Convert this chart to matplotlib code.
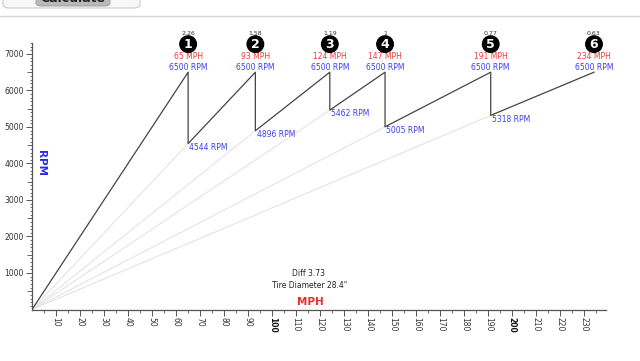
import matplotlib

matplotlib.use("Agg")

import matplotlib.pyplot as plt
from matplotlib.patches import FancyBboxPatch
from matplotlib.lines import Line2D
import numpy as np

# gear data
GEARS = ["1", "2", "3", "4", "5", "6"]
RATIOS = ["2.26", "1.58", "1.19", "1", "0.77", "0.63"]
SHIFT_MPH = [65, 93, 124, 147, 191, 234]
SHIFT_RPM = 6500
DROP_RPM = [4544, 4896, 5462, 5005, 5318]
DIFF = "3.73"
TIRE = "28.4"

X_MAX = 239
Y_MAX = 7300
RED = "#ee3b3b"
BLUE = "#3d3dee"
DARK = "#444444"

W, H = 640, 361
fig = plt.figure(figsize=(W / 100, H / 100), dpi=100)
fig.patch.set_facecolor("white")


def fx(px):
    return px / W


def fy(py):
    return 1 - py / H


# page chrome at the top (cut-off "Calculate" button)
fig.add_artist(Line2D([0, 1], [fy(16), fy(16)], color="#d6d6d6", lw=1.0))
fig.add_artist(FancyBboxPatch((fx(3), fy(8)), fx(137), fy(-20) - fy(8),
                              boxstyle="round,pad=0,rounding_size=0.01",
                              fc="#f7f7f7", ec="#cccccc", lw=0.8))
fig.add_artist(FancyBboxPatch((fx(36), fy(6)), fx(74), fy(-20) - fy(6),
                              boxstyle="round,pad=0,rounding_size=0.008",
                              fc="#b9b9b9", ec="#999999", lw=0.6))
fig.text(fx(73), fy(-2), "Calculate", ha="center", va="center",
         fontsize=9, fontweight="bold", color="#222222")

ax = fig.add_axes([fx(32), fy(309.5), fx(574), (309.5 - 43) / H])
ax.set_xlim(0, X_MAX)
ax.set_ylim(0, Y_MAX)
for side in ("top", "right"):
    ax.spines[side].set_visible(False)
for side in ("left", "bottom"):
    ax.spines[side].set_color("#555555")
    ax.spines[side].set_linewidth(0.9)

# light lines from the origin for gears 2..6
for mph, rpm in zip(SHIFT_MPH[:-1], DROP_RPM):
    ax.plot([0, mph], [0, rpm], color="#e4e4e4", lw=0.8, zorder=1)

# saw-tooth curve
xs = [0]
ys = [0]
for i, mph in enumerate(SHIFT_MPH):
    xs.append(mph)
    ys.append(SHIFT_RPM)
    if i < len(DROP_RPM):
        xs.append(mph)
        ys.append(DROP_RPM[i])
ax.plot(xs, ys, color=DARK, lw=0.9, zorder=2)

# labels above each shift point
for gear, ratio, mph in zip(GEARS, RATIOS, SHIFT_MPH):
    ax.annotate(f"{SHIFT_RPM} RPM", (mph, SHIFT_RPM), xytext=(0, 0.4),
                textcoords="offset points", ha="center", va="bottom",
                fontsize=5.5, color=BLUE, annotation_clip=False)
    ax.annotate(f"{mph} MPH", (mph, SHIFT_RPM), xytext=(0, 8.3),
                textcoords="offset points", ha="center", va="bottom",
                fontsize=5.5, color=RED, annotation_clip=False)
    ax.annotate(gear, (mph, SHIFT_RPM), xytext=(0, 20.2),
                textcoords="offset points", ha="center", va="center",
                fontsize=9, fontweight="bold", color="white",
                annotation_clip=False,
                bbox=dict(boxstyle="circle,pad=0.14", fc="black", ec="black"))
    ax.annotate(ratio, (mph, SHIFT_RPM), xytext=(0, 26.2),
                textcoords="offset points", ha="center", va="bottom",
                fontsize=4.5, color="#333333", annotation_clip=False)

# rpm after each shift
for mph, rpm in zip(SHIFT_MPH[:-1], DROP_RPM):
    ax.annotate(f"{rpm} RPM", (mph, rpm), xytext=(1, 0.5),
                textcoords="offset points", ha="left", va="top",
                fontsize=5.5, color=BLUE)

# ticks
ax.set_yticks(np.arange(1000, 7001, 1000))
ax.set_yticks(np.arange(100, Y_MAX + 1, 100), minor=True)
ax.tick_params(axis="y", which="major", length=4.5, width=0.7, colors="#555555",
               labelsize=5.5, labelcolor="#333333", pad=1.5)
ax.tick_params(axis="y", which="minor", length=1.8, width=0.6, colors="#555555")
for v in np.arange(500, 7001, 1000):
    ax.plot([0], [v], marker=0, markersize=3.5, mew=0.6, color="#555555",
            clip_on=False)

ax.set_xticks(np.arange(10, 231, 10))
ax.set_xticks(np.arange(5, X_MAX, 10), minor=True)
ax.set_xticklabels([str(v) for v in range(10, 231, 10)], rotation=-90)
ax.tick_params(axis="x", which="major", length=4, width=0.7, colors="#555555",
               labelsize=5.5, labelcolor="#333333", pad=1.5)
ax.tick_params(axis="x", which="minor", length=2.2, width=0.6, colors="#555555")
for lbl in ax.get_xticklabels():
    if lbl.get_text() in ("100", "200"):
        lbl.set_fontweight("bold")
        lbl.set_color("#111111")

ax.text(1.5, 4000, "RPM", rotation=-90, ha="left", va="center",
        fontsize=7.5, fontweight="bold", color="#2a2ae6")
ax.text(116, 200, "MPH", ha="center", va="center",
        fontsize=7.5, fontweight="bold", color="#ee2a2a")
ax.text(115, 980, f"Diff {DIFF}", ha="center", va="center",
        fontsize=5.5, color="#222222")
ax.text(115.5, 650, f'Tire Diameter {TIRE}"', ha="center", va="center",
        fontsize=5.5, color="#222222")

fig.savefig("out.png", dpi=100)
